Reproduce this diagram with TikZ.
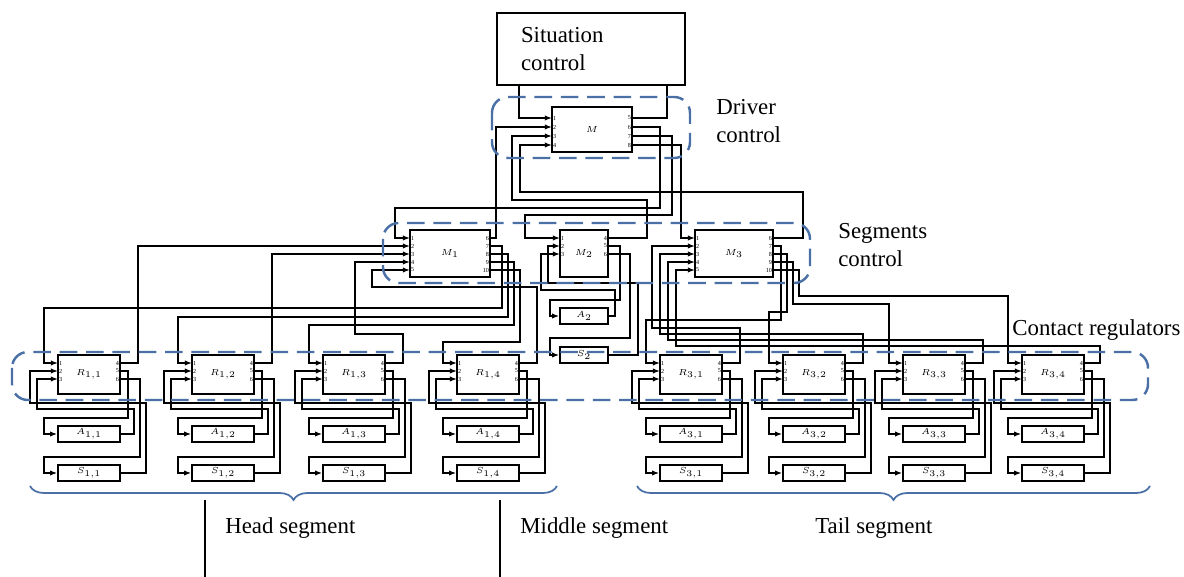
\documentclass[tikz,border=0pt]{standalone}
\usepackage{fontspec}
\setmainfont{Liberation Serif}
\usetikzlibrary{arrows.meta,decorations.pathreplacing}
\definecolor{grpblue}{RGB}{74,112,166}
\tikzset{
  font=\fontsize{13}{16}\selectfont
}

\begin{document}
\begin{tikzpicture}[x=0.02cm,y=-0.02cm,
  blk/.style={rectangle,draw,line width=0.9pt,inner sep=0pt,font=\fontsize{5}{6}\selectfont},
  sz/.style 2 args={minimum width=#1*0.02cm,minimum height=#2*0.02cm},
  pinl/.style={inner sep=0.4pt,font=\fontsize{3.5}{4}\selectfont},
  wire/.style={line width=0.9pt},
  feed/.style={wire,-{Latex[length=4pt,width=3pt]}},
  grp/.style={draw=grpblue,line width=1.4pt,dash pattern=on 10pt off 5pt,rounded corners=9pt},
  brc/.style={draw=grpblue,line width=1pt,decorate,decoration={brace,mirror,amplitude=0.28cm}},
  lbl/.style={align=left,anchor=west,inner sep=0pt}]

\useasboundingbox (0,0) rectangle (1184,577);

% driver level
\node[draw,line width=0.9pt,sz={188}{72},align=left,text width=140*0.02cm,inner sep=0pt] (sit) at (591,49) {Situation\\control};
\coordinate (sit-a) at (519,85);
\coordinate (sit-b) at (667,85);
\node[blk,sz={80}{45}] (M) at (592,129.5) {$M$};
\foreach \k/\y in {1/118,2/127,3/136,4/145}{
  \coordinate (M-\k) at (552,\y);
  \node[pinl,anchor=west] (M-n\k) at (552,\y) {\k};}
\foreach \k/\y in {5/118,6/127,7/136,8/145}{
  \coordinate (M-\k) at (632,\y);
  \node[pinl,anchor=east] (M-n\k) at (632,\y) {\k};}

% segment managers
\node[blk,sz={80}{47}] (M1) at (450,253.5) {$M_1$};
\foreach \k/\y in {1/238,2/246,3/254,4/262,5/270}{
  \coordinate (M1-\k) at (410,\y);
  \node[pinl,anchor=west] (M1-n\k) at (410,\y) {\k};}
\foreach \k/\y in {6/238,7/246,8/254,9/262,10/270}{
  \coordinate (M1-\k) at (490,\y);
  \node[pinl,anchor=east] (M1-n\k) at (490,\y) {\k};}

\node[blk,sz={48}{47}] (M2) at (584,253.5) {$M_2$};
\foreach \k/\y in {1/238,2/246,3/254}{
  \coordinate (M2-\k) at (560,\y);
  \node[pinl,anchor=west] (M2-n\k) at (560,\y) {\k};}
\foreach \k/\y in {4/238,5/246,6/254}{
  \coordinate (M2-\k) at (608,\y);
  \node[pinl,anchor=east] (M2-n\k) at (608,\y) {\k};}
\node[blk,sz={48}{16}] (A2) at (584,316) {$A_2$};
\node[blk,sz={48}{16}] (S2) at (584,355) {$S_2$};

\node[blk,sz={78}{47}] (M3) at (734,253.5) {$M_3$};
\foreach \k/\y in {1/238,2/246,3/254,4/262,5/270}{
  \coordinate (M3-\k) at (695,\y);
  \node[pinl,anchor=west] (M3-n\k) at (695,\y) {\k};}
\foreach \k/\y in {6/238,7/246,8/254,9/262,10/270}{
  \coordinate (M3-\k) at (773,\y);
  \node[pinl,anchor=east] (M3-n\k) at (773,\y) {\k};}

% contact regulators with their A and S blocks
\foreach \L/\i/\j in {58/1/1,192/1/2,323/1/3,457/1/4,660/3/1,783/3/2,903/3/3,1022/3/4}{
  \node[blk,sz={62}{39}] (R\i\j) at (\L+31,374.5) {$R_{\i,\j}$};
  \node[blk,sz={62}{16}] (A\i\j) at (\L+31,434) {$A_{\i,\j}$};
  \node[blk,sz={62}{16}] (S\i\j) at (\L+31,473) {$S_{\i,\j}$};
  \foreach \k/\y in {1/363,2/371,3/379}{
    \coordinate (R\i\j-\k) at (\L,\y);
    \node[pinl,anchor=west] (R\i\j-n\k) at (\L,\y) {\k};}
  \foreach \k/\y in {4/363,5/371,6/379}{
    \coordinate (R\i\j-\k) at (\L+62,\y);
    \node[pinl,anchor=east] (R\i\j-n\k) at (\L+62,\y) {\k};}
  \draw[feed] (R\i\j-5) -| (\L+70,418) -| (\L-14,434) -- (A\i\j.west);
  \draw[feed] (A\i\j.east) -| (\L+76,409) -| (\L-21,379) -- (R\i\j-3);
  \draw[feed] (R\i\j-6) -| (\L+82,457) -| (\L-14,473) -- (S\i\j.west);
  \draw[feed] (S\i\j.east) -| (\L+88,403) -| (\L-28,371) -- (R\i\j-2);
}

% M <-> situation and segments
\draw[feed] (sit-a) |- (M-1);
\draw[wire] (M-5) -| (sit-b);
\draw[feed] (M1-6) -| (496,127) -- (M-2);
\draw[feed] (M-6) -| (660,208) -| (395,238) -- (M1-1);
\draw[feed] (M2-4) -| (647,200) -| (512,136) -- (M-3);
\draw[feed] (M-7) -| (672,215) -| (525,238) -- (M2-1);
\draw[feed] (M3-6) -| (803,192) -| (520,145) -- (M-4);
\draw[feed] (M-8) -| (681,238) -- (M3-1);

% head segment
\draw[feed] (R11-4) -| (138,246) -- (M1-2);
\draw[feed] (R12-4) -| (272,254) -- (M1-3);
\draw[feed] (R13-4) -| (403,334) -| (355,262) -- (M1-4);
\draw[feed] (R14-4) -| (537,287) -| (372,270) -- (M1-5);
\draw[feed] (M1-7) -| (502,308) -| (44,363) -- (R11-1);
\draw[feed] (M1-8) -| (508,317) -| (178,363) -- (R12-1);
\draw[feed] (M1-9) -| (514,325) -| (309,363) -- (R13-1);
\draw[feed] (M1-10) -| (520,342) -| (443,363) -- (R14-1);

% middle segment
\draw[feed] (M2-5) -| (620,300) -| (550,316) -- (A2.west);
\draw[feed] (A2.east) -| (615,290) -| (541,254) -- (M2-3);
\draw[feed] (M2-6) -| (630,338) -| (550,355) -- (S2.west);
\draw[feed] (S2.east) -| (638,283) -| (548,246) -- (M2-2);

% tail segment
\draw[feed] (R31-4) -| (740,328) -| (652,246) -- (M3-2);
\draw[feed] (R32-4) -| (863,334) -| (660,254) -- (M3-3);
\draw[feed] (R33-4) -| (983,340) -| (668,262) -- (M3-4);
\draw[feed] (R34-4) -| (1100,346) -| (676,270) -- (M3-5);
\draw[feed] (M3-7) -| (781,320) -| (646,363) -- (R31-1);
\draw[feed] (M3-8) -| (787,312) -| (769,363) -- (R32-1);
\draw[feed] (M3-9) -| (793,304) -| (889,363) -- (R33-1);
\draw[feed] (M3-10) -| (799,296) -| (1008,363) -- (R34-1);

% groups
\draw[grp] (492,97) rectangle (690,158);
\draw[grp] (383,223) rectangle (810,283);
\draw[grp] (12,352) rectangle (1148,400);
\draw[brc] (30,486) -- (557,486);
\draw[brc] (637,486) -- (1150,486);
\draw[line width=0.6pt] (205,500) -- (205,577);
\draw[line width=0.6pt] (500,500) -- (500,577);

\node[lbl] (drv) at (716,121) {Driver\\control};
\node[lbl] (seg) at (838,245) {Segments\\control};
\node[lbl] (reg) at (1012,330) {Contact regulators};
\node[lbl] (head) at (225,528) {Head segment};
\node[lbl] (mid) at (520,528) {Middle segment};
\node[lbl] (tail) at (815,528) {Tail segment};
\end{tikzpicture}
\end{document}
